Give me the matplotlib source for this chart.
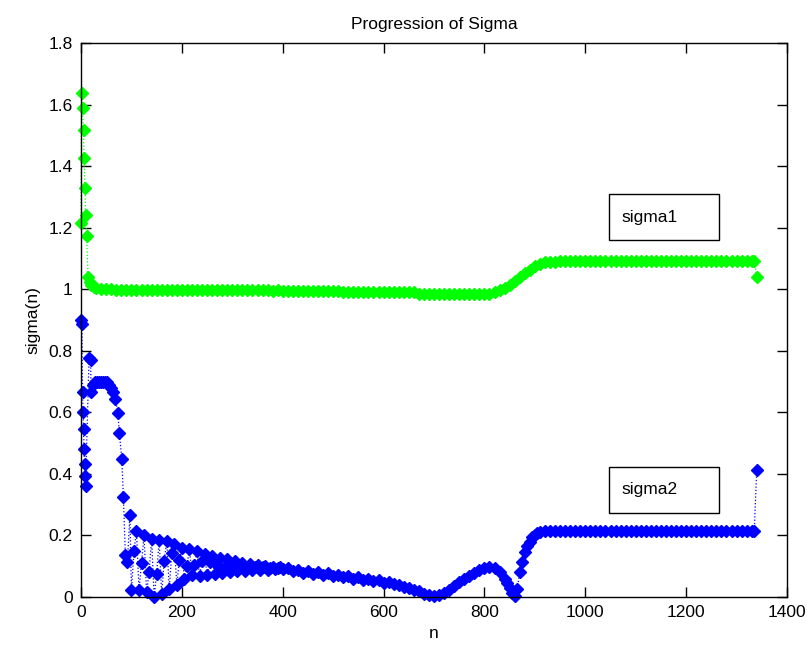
import matplotlib
matplotlib.use("Agg")
import matplotlib.pyplot as plt
from matplotlib.patches import Rectangle
from matplotlib.ticker import FormatStrFormatter

# sigma1 (green), values
sigma1_n = [0, 1, 3, 5, 6, 8, 9, 11, 14, 17, 20, 25, 30,
            40, 50, 60, 70, 80, 90, 100, 110, 120, 130,
            140, 150, 160, 170, 180, 190, 200, 210, 220, 230,
            240, 250, 260, 270, 280, 290, 300, 310, 320, 330,
            340, 350, 360, 370, 380, 390, 400, 410, 420, 430,
            440, 450, 460, 470, 480, 490, 500, 510, 520, 530,
            540, 550, 560, 570, 580, 590, 600, 610, 620, 630,
            640, 650, 660, 670, 680, 690, 700, 710, 720, 730,
            740, 750, 760, 770, 780, 790, 800,
            810, 820, 830, 840, 850, 860, 870, 880, 890, 900,
            910, 920, 930, 940,
            950, 960, 970, 980, 990, 1000, 1010, 1020, 1030, 1040,
            1050, 1060, 1070, 1080, 1090, 1100, 1110, 1120, 1130, 1140,
            1150, 1160, 1170, 1180, 1190, 1200, 1210, 1220, 1230, 1240,
            1250, 1260, 1270, 1280, 1290, 1300, 1310, 1320, 1330,
            1335, 1340]
sigma1_v = [1.215, 1.637, 1.59, 1.517, 1.426, 1.33, 1.24, 1.173, 1.04, 1.025,
            1.015, 1.007, 1.003,
            1.0, 1.0, 1.0, 0.999, 0.999, 0.999, 0.999, 0.999, 0.999, 0.999,
            0.998, 0.998, 0.999, 0.998, 0.998, 0.998, 0.997, 0.998, 0.998, 0.997,
            0.997, 0.997, 0.997, 0.997, 0.997, 0.996, 0.997, 0.996, 0.996, 0.996,
            0.996, 0.996, 0.996, 0.996, 0.995, 0.996, 0.995, 0.995, 0.995, 0.995,
            0.995, 0.995, 0.995, 0.995, 0.995, 0.995, 0.994, 0.994, 0.992, 0.991,
            0.991, 0.991, 0.991, 0.991, 0.991, 0.99, 0.99, 0.99, 0.99, 0.99,
            0.99, 0.99, 0.99, 0.984, 0.984, 0.984, 0.983, 0.983, 0.983, 0.983,
            0.983, 0.983, 0.983, 0.983, 0.983, 0.983, 0.984,
            0.986, 0.99, 0.996, 1.005, 1.015, 1.027, 1.04, 1.052, 1.064, 1.074,
            1.082, 1.087, 1.089, 1.09,
            1.091, 1.091, 1.091, 1.091, 1.091, 1.092, 1.092, 1.092, 1.092, 1.092,
            1.092, 1.092, 1.092, 1.092, 1.092, 1.092, 1.092, 1.092, 1.092, 1.092,
            1.092, 1.092, 1.092, 1.092, 1.092, 1.092, 1.092, 1.092, 1.092, 1.092,
            1.092, 1.092, 1.092, 1.092, 1.092, 1.092, 1.092, 1.092, 1.092,
            1.092, 1.04]

# sigma2 (blue), values
sigma2_n = [0, 2, 3, 4, 5, 6, 7, 8, 9, 16, 19, 20, 24, 28, 32, 36, 40, 44,
            48, 52, 56, 60, 64, 68, 73, 76, 81, 84, 88, 92, 97,
            100, 105, 110, 115, 120, 125, 130, 135, 140, 145,
            150, 155, 160, 165, 170, 175, 180, 185, 190, 195,
            200, 205, 210, 215, 220, 225, 230, 235, 240, 245,
            250, 255, 260, 265, 270, 275, 280, 285, 290, 295,
            300, 305, 310, 315, 320, 325, 330, 335, 340, 345,
            350, 355, 360, 365, 370, 375, 380, 385, 390, 395,
            400,
            410, 420, 430, 440, 450, 460, 470, 480, 490, 500,
            510, 520, 530, 540, 550, 560, 570, 580, 590, 600,
            610, 620, 630, 640, 650, 660, 670, 680, 690, 700,
            710, 720, 730, 740, 750, 760, 770, 780, 790, 800,
            810, 820, 830, 840, 845, 850, 855, 860, 865, 870,
            875, 880, 885, 890, 895, 900, 905, 910, 920, 930, 940,
            950, 960, 970, 980, 990, 1000, 1010, 1020, 1030, 1040,
            1050, 1060, 1070, 1080, 1090, 1100, 1110, 1120, 1130, 1140,
            1150, 1160, 1170, 1180, 1190, 1200, 1210, 1220, 1230, 1240,
            1250, 1260, 1270, 1280, 1290, 1300, 1310, 1320, 1330,
            1335, 1340]
sigma2_v = [0.90, 0.886, 0.667, 0.60, 0.546, 0.48, 0.431, 0.393, 0.36, 0.777,
            0.77, 0.667, 0.69, 0.70, 0.70, 0.70, 0.70, 0.70, 0.70, 0.697, 0.69,
            0.68, 0.665, 0.644, 0.599, 0.534, 0.447, 0.326, 0.137, 0.115, 0.266,
            0.023, 0.148, 0.215, 0.022, 0.11, 0.20, 0.015, 0.08, 0.19, 0.0,
            0.075, 0.186, 0.01, 0.118, 0.182, 0.026, 0.143, 0.172, 0.04, 0.12,
            0.16, 0.058, 0.10, 0.155, 0.072, 0.105, 0.148, 0.068, 0.118, 0.14,
            0.072, 0.115, 0.133, 0.076, 0.104, 0.128, 0.079, 0.099, 0.124, 0.082,
            0.103, 0.118, 0.085, 0.101, 0.112, 0.086, 0.098, 0.108, 0.087, 0.097,
            0.104, 0.088, 0.097, 0.10, 0.089, 0.095, 0.098, 0.09, 0.094, 0.096,
            0.091,
            0.094, 0.084, 0.089, 0.079, 0.085, 0.076, 0.081, 0.072, 0.077, 0.068,
            0.073, 0.064, 0.068, 0.060, 0.064, 0.056, 0.059, 0.052, 0.054, 0.047,
            0.048, 0.041, 0.040, 0.033, 0.030, 0.022, 0.018, 0.010, 0.007, 0.003,
            0.008, 0.014, 0.024, 0.036, 0.048, 0.058, 0.068, 0.078, 0.087, 0.094,
            0.098, 0.094, 0.08, 0.058, 0.045, 0.03, 0.012, 0.002, 0.025, 0.08,
            0.115, 0.145, 0.165, 0.18, 0.195, 0.203, 0.208, 0.211, 0.213, 0.214, 0.214,
            0.215, 0.215, 0.216, 0.215, 0.215, 0.215, 0.216, 0.215, 0.215, 0.215,
            0.215, 0.216, 0.215, 0.215, 0.215, 0.215, 0.216, 0.215, 0.215, 0.215,
            0.215, 0.215, 0.216, 0.215, 0.215, 0.215, 0.215, 0.215, 0.216, 0.215,
            0.215, 0.215, 0.215, 0.216, 0.215, 0.215, 0.215, 0.215, 0.215,
            0.214, 0.413]

x_ticks = [0, 200, 400, 600, 800, 1000, 1200, 1400]
y_ticks = [0, 0.2, 0.4, 0.6, 0.8, 1.0, 1.2, 1.4, 1.6, 1.8]

plt.rcParams["font.family"] = ["Liberation Sans", "DejaVu Sans"]

fig = plt.figure(figsize=(8.07, 6.54), dpi=100)
ax = fig.add_axes([81 / 807, 57 / 654, 706 / 807, 554 / 654])

style = dict(linestyle=":", linewidth=0.9, marker="D", markersize=6.5, clip_on=False)
ax.plot(sigma1_n, sigma1_v, color="#00ff00", mec="#00ff00", mfc="#00ff00", **style)
ax.plot(sigma2_n, sigma2_v, color="#0000ff", mec="#0000ff", mfc="#0000ff", **style)

ax.set_xlim(0, 1400)
ax.set_ylim(0, 1.8)
ax.set_xticks(x_ticks)
ax.set_yticks(y_ticks)
ax.yaxis.set_major_formatter(FormatStrFormatter("%g"))
ax.tick_params(direction="in", length=7, width=1, top=True, right=True,
               labelsize=12.5, pad=6)
for sp in ax.spines.values():
    sp.set_linewidth(1)

ax.set_title("Progression of Sigma", fontsize=12.5, pad=10)
ax.set_xlabel("n", fontsize=12.5, labelpad=4)
ax.set_ylabel("sigma(n)", fontsize=12.5, labelpad=6)

# annotation boxes
for label, y0 in [("sigma1", 0.644), ("sigma2", 0.152)]:
    ax.add_patch(Rectangle((0.748, y0), 0.156, 0.083, transform=ax.transAxes,
                           fill=False, edgecolor="black", linewidth=1, clip_on=False))
    ax.text(0.765, y0 + 0.0415, label, transform=ax.transAxes,
            ha="left", va="center", fontsize=12.5)

fig.savefig("out.png", dpi=100)
